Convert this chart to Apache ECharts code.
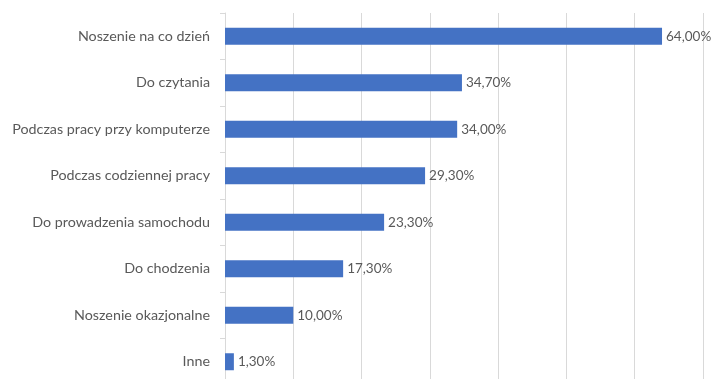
<!DOCTYPE html>
<html><head><meta charset="utf-8">
<script src="https://cdn.jsdelivr.net/npm/echarts@6/dist/echarts.min.js"></script>
<style>html,body{margin:0;padding:0;background:#fff}#c{width:711px;height:379px}</style>
</head><body><div id="c"></div>
<script>
const categories = ["Noszenie na co dzień","Do czytania","Podczas pracy przy komputerze","Podczas codziennej pracy","Do prowadzenia samochodu","Do chodzenia","Noszenie okazjonalne","Inne"];
const values = [64.0, 34.7, 34.0, 29.3, 23.3, 17.3, 10.0, 1.3];
const xTicks = [0, 10, 20, 30, 40, 50, 60, 70];

const chart = echarts.init(document.getElementById('c'));
chart.setOption({
  animation: false,
  textStyle: {fontFamily: 'Lato'},
  grid: {left: 225, right: 8, top: 13, height: 372, containLabel: false, outerBoundsMode: 'none'},
  xAxis: {
    type: 'value', min: xTicks[0], max: xTicks[xTicks.length-1], interval: 10,
    axisLabel: {show: false}, axisLine: {show: false}, axisTick: {show: false},
    splitLine: {show: true, lineStyle: {color: '#d9d9d9', width: 1}}
  },
  yAxis: {
    type: 'category', data: categories, inverse: true,
    axisLine: {show: true, lineStyle: {color: '#d9d9d9'}},
    axisTick: {show: true, length: 5, lineStyle: {color: '#d9d9d9'}},
    axisLabel: {color: '#595959', fontSize: 14.3, fontFamily: 'Lato', margin: 15}
  },
  series: [{
    type: 'bar', data: values, barWidth: 17,
    itemStyle: {color: '#4472C4'},
    label: {show: true, position: 'right', distance: 4, color: '#595959', fontSize: 13.5, fontFamily: 'Lato',
      formatter: p => p.value.toFixed(2).replace('.', ',') + '%'}
  }]
});
</script></body></html>
